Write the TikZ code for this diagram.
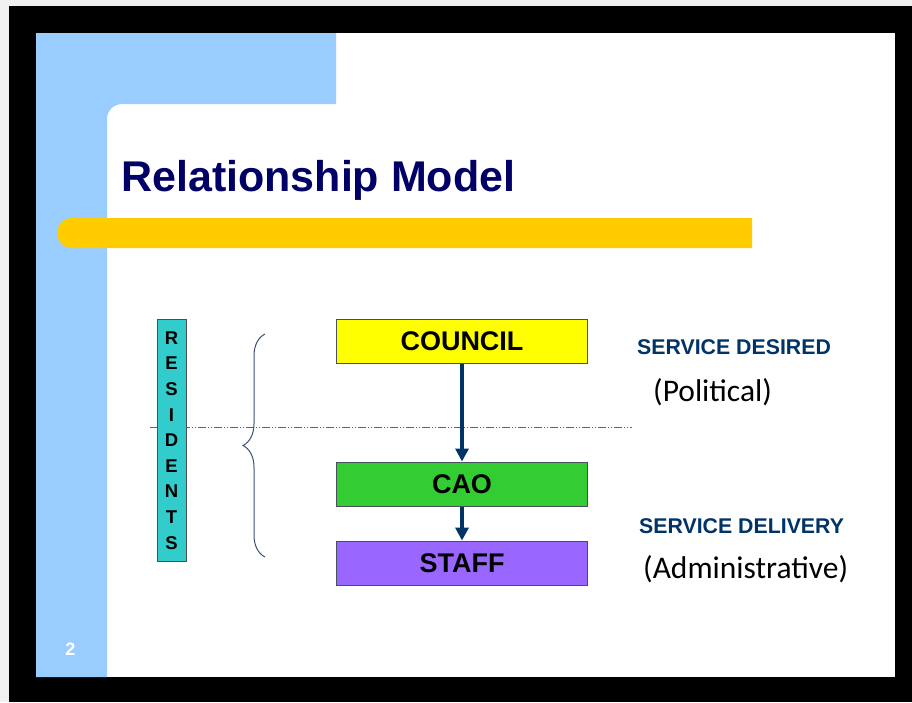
\documentclass[tikz,border=0pt]{standalone}
\usepackage{fontspec}
\usepackage{tikz}
\setmainfont{Liberation Sans}
\newfontfamily\calibri{Carlito}
\usetikzlibrary{arrows.meta}
\usetikzlibrary{decorations.pathreplacing}
\usetikzlibrary{positioning}
\definecolor{slideblue}{RGB}{153, 204, 255}
\definecolor{bargold}{RGB}{255, 204, 0}
\definecolor{titlenavy}{RGB}{0, 0, 102}
\definecolor{mnavy}{RGB}{0, 51, 102}
\definecolor{resteal}{RGB}{51, 204, 204}
\definecolor{cyellow}{RGB}{255, 255, 0}
\definecolor{cgreen}{RGB}{51, 204, 51}
\definecolor{cpurple}{RGB}{153, 102, 255}
\definecolor{boxline}{RGB}{70, 80, 95}
\definecolor{bracecol}{RGB}{60, 80, 120}
\tikzset{orgbox/.style = {draw = boxline, line width = 1pt, inner sep = 0,
                          minimum width = 251, minimum height = 44,
                          font = \fontsize{27}{30}\selectfont\bfseries}}
\tikzset{flow/.style = {draw = mnavy, line width = 3.3,
                        -{Triangle[length = 13, width = 13]}}}
\tikzset{svc/.style = {anchor = base west, inner sep = 0, text = mnavy,
                       font = \fontsize{21.3}{24}\selectfont\bfseries}}
\tikzset{note/.style = {anchor = base west, inner sep = 0,
                        font = \calibri\fontsize{31.5}{34}\selectfont}}
\begin{document}
\begin{tikzpicture}[x = 1pt, y = -1pt]
    \useasboundingbox (0, 0) rectangle (912, 702);
    \fill [black!6] (0, 0) rectangle (912, 702);
    \fill [black] (9, 6) rectangle (912, 702);
    \fill [white] (36, 33) rectangle (895, 677);
    \fill [slideblue] (36, 33) -- (336, 33) -- (336, 104) [rounded corners = 15pt]
        -- (107, 104) [sharp corners] -- (107, 677) -- (36, 677) -- cycle;
    \fill [bargold] (752, 218) [rounded corners = 15pt] -- (57, 218) -- (57, 248)
        [sharp corners] -- (752, 248) -- cycle;

    \node [anchor = base west, inner sep = 0, text = titlenavy,
           font = \fontsize{43}{48}\selectfont\bfseries] (title) at (121, 191) {Relationship Model};
    \node [text = white, font = \fontsize{18}{20}\selectfont\bfseries] (page) at (70.5, 649.5) {2};

    \coordinate (dashl) at (150, 427);
    \coordinate (dashr) at (632, 427);
    \draw [boxline!90, line width = 1, dash pattern = on 8 off 2 on 1 off 2 on 1 off 2] (dashl) -- (dashr);

    \node [draw = boxline, fill = resteal, line width = 1, inner sep = 0,
           minimum width = 29, minimum height = 242, align = center,
           font = \fontsize{18.5}{25.6}\selectfont\bfseries] (residents) at (171.5, 440.5)
           {R\\E\\S\\I\\D\\E\\N\\T\\S};

    \coordinate (bracebot) at (265, 557);
    \coordinate (bracetop) at (265, 334);
    \draw [bracecol, line width = 1, decorate, decoration = {brace, amplitude = 22pt}] (bracebot) -- (bracetop);

    \node [orgbox, fill = cyellow] (council) at (462, 341) {COUNCIL};
    \node [orgbox, fill = cgreen] (cao) at (462, 484) {CAO};
    \node [orgbox, fill = cpurple] (staff) at (462, 563) {STAFF};
    \draw [flow] (council) -- (cao);
    \draw [flow] (cao) -- (staff);

    \node [svc] (desired) at (637, 354.3) {SERVICE DESIRED};
    \node [note] (political) at (653, 401) {(Political)};
    \node [svc] (delivery) at (639, 533) {SERVICE DELIVERY};
    \node [note] (admin) at (643, 578) {(Administrative)};
  \end{tikzpicture}
\end{document}
